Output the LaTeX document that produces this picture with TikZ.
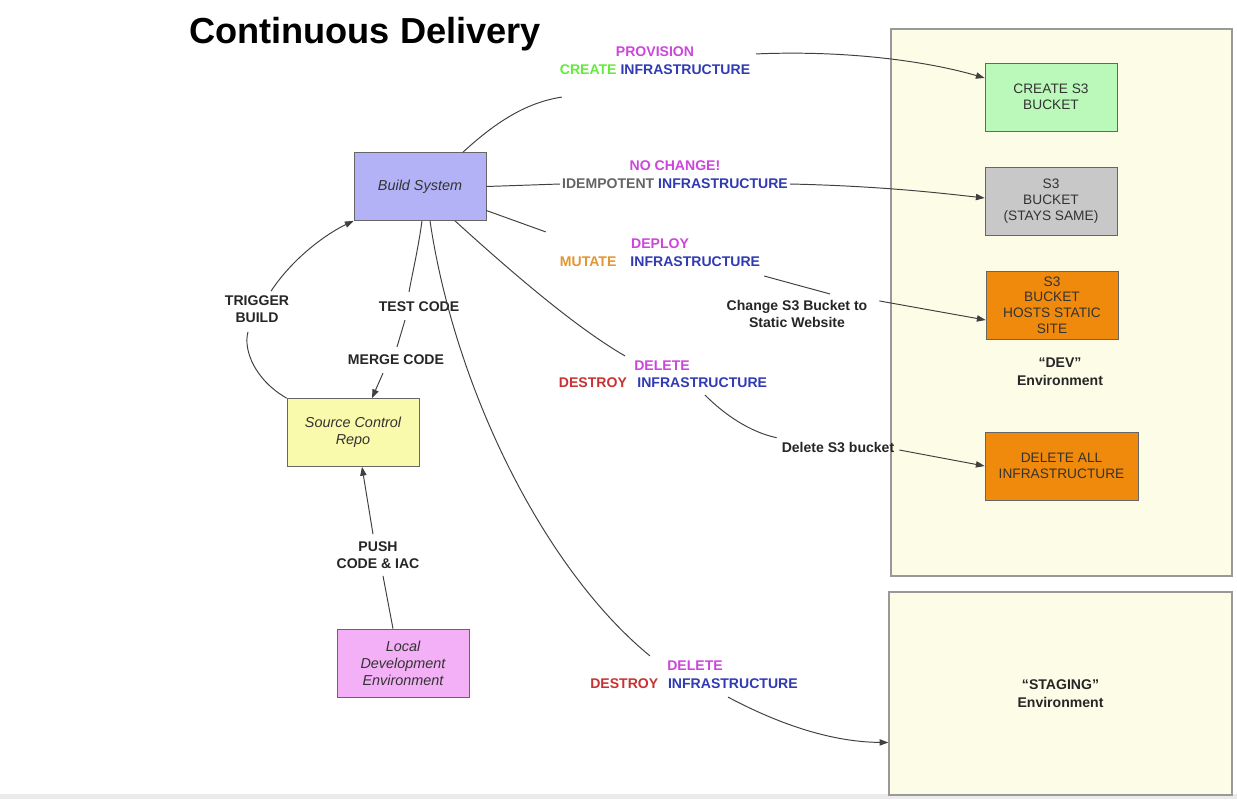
\documentclass[tikz,border=0pt]{standalone}
\usepackage{fontspec}
\setmainfont{Liberation Sans}
\usepackage{xcolor}
\usepackage{tikz}
\usetikzlibrary{arrows.meta,calc,positioning}

\definecolor{buildfill}{RGB}{180,178,246}
\definecolor{srcfill}{RGB}{250,250,172}
\definecolor{localfill}{RGB}{244,176,246}
\definecolor{createfill}{RGB}{186,249,186}
\definecolor{samefill}{RGB}{200,200,200}
\definecolor{orangefill}{RGB}{240,138,12}
\definecolor{envfill}{RGB}{253,253,231}
\definecolor{cmag}{RGB}{205,70,220}
\definecolor{cgreen}{RGB}{100,235,60}
\definecolor{cblue}{RGB}{48,58,180}
\definecolor{cgray}{RGB}{100,100,100}
\definecolor{corange}{RGB}{228,148,48}
\definecolor{cred}{RGB}{200,50,50}

\begin{document}
\begin{tikzpicture}[x=0.02cm, y=-0.02cm,
    box/.style={draw=black!60, fill=#1, align=center, text=black!80, minimum width=2.64cm, minimum height=1.36cm, inner sep=2pt, font=\fontsize{7.8}{9}\selectfont},
    itbox/.style={box=#1, font=\itshape\fontsize{8.2}{9.6}\selectfont},
    lbl/.style={font=\bfseries\fontsize{8}{10}\selectfont, align=center, inner sep=1pt, text=black!85},
    envbox/.style={draw=black!40, fill=envfill, line width=0.8pt},
    conn/.style={draw=black!75, line width=0.55pt},
    arr/.style={conn, -{Triangle[length=5pt,width=3.6pt]}}]

\useasboundingbox (0,0) rectangle (1237,799);
\fill[white] (0,0) rectangle (1237,799);
\fill[black!8] (0,794) rectangle (1237,799);

\node[font=\bfseries\fontsize{20.6}{24}\selectfont] (title) at (365,34) {Continuous Delivery};

\node[envbox, minimum width=6.82cm, minimum height=10.94cm] (dev) at (1061.5,302.5) {};
\node[lbl] (devtxt) at (1060,372) {“DEV”\\Environment};
\node[envbox, lbl, minimum width=6.86cm, minimum height=4.06cm] (staging) at (1060.5,693.5) {“STAGING”\\Environment};

\node[itbox=buildfill] (build) at (420,186.5) {Build System};
\node[itbox=srcfill] (src) at (353,432.5) {Source Control\\Repo};
\node[itbox=localfill] (local) at (403,663) {Local\\Development\\Environment};
\node[box=createfill] (create) at (1051,97) {CREATE S3\\BUCKET};
\node[box=samefill] (same) at (1051,201) {S3\\BUCKET\\(STAYS SAME)};
\node[box=orangefill] (hosts) at (1052,305) {S3\\BUCKET\\HOSTS STATIC\\SITE};
\node[box=orangefill, minimum width=3.06cm] (delall) at (1061.5,466) {DELETE ALL\\INFRASTRUCTURE};

\node[lbl, text=cmag] (prov) at (655,52) {PROVISION};
\node[lbl] (crt) at (655,70) {\textcolor{cgreen}{CREATE} \textcolor{cblue}{INFRASTRUCTURE}};
\node[lbl, text=cmag] (nochg) at (675,166) {NO CHANGE!};
\node[lbl] (idem) at (675,184) {\textcolor{cgray}{IDEMPOTENT} \textcolor{cblue}{INFRASTRUCTURE}};
\node[lbl, text=cmag] (deploy) at (660,244) {DEPLOY};
\node[lbl] (mut) at (660,262) {\textcolor{corange}{MUTATE}\hspace{1em}\textcolor{cblue}{INFRASTRUCTURE}};
\node[lbl, text=cmag] (del) at (662,366) {DELETE};
\node[lbl] (des) at (663,383) {\textcolor{cred}{DESTROY}\hspace{0.75em}\textcolor{cblue}{INFRASTRUCTURE}};
\node[lbl, text=cmag] (deltwo) at (695,666) {DELETE};
\node[lbl] (destwo) at (694,684) {\textcolor{cred}{DESTROY}\hspace{0.7em}\textcolor{cblue}{INFRASTRUCTURE}};

\node[lbl] (chg) at (797,314) {Change S3 Bucket to\\Static Website};
\node[lbl] (dels3) at (838,447) {Delete S3 bucket};
\node[lbl] (trigger) at (257,309) {TRIGGER\\BUILD};
\node[lbl] (test) at (419,307) {TEST CODE};
\node[lbl] (merge) at (396,360) {MERGE CODE};
\node[lbl] (push) at (378,555) {PUSH\\CODE \& IAC};

\draw[conn] ($(build.north)+(43,0)$) .. controls (500,118) and (530,102) .. ($(crt.south west)+(4,20)$);
\draw[arr] ($(crt.north east)+(4,-9)$) .. controls (850,50) and (930,62) .. ($(create.west)+(0,-19)$);

\draw[conn] (build.east) -- (idem.west);
\draw[arr] (idem.east) .. controls (880,186) and (940,193) .. ($(same.west)+(0,-3)$);

\draw[conn] ($(build.east)+(0,24)$) -- ($(mut.north west)+(-12,-23)$);
\draw[conn] ($(mut.east)+(2,14)$) -- ($(chg.north)+(33,-4)$);
\draw[arr] ($(chg.north east)+(10,3)$) -- ($(hosts.west)+(0,15)$);

\draw[conn] ($(build.south)+(35,0)$) .. controls (520,280) and (580,330) .. ($(des.north)+(-38,-20)$);
\draw[conn] ($(des.south)+(42,5)$) .. controls (725,415) and (750,432) .. ($(dels3.north west)+(-3,-2)$);
\draw[arr] ($(dels3.east)+(3,3)$) -- (delall.west);

\draw[conn] ($(build.south)+(10,0)$) .. controls (455,390) and (545,570) .. ($(destwo.north)+(-44,-21)$);
\draw[arr] ($(destwo.south)+(34,6)$) .. controls (790,730) and (840,742) .. ($(staging.west)+(0,49)$);

\draw[conn] ($(build.south)+(2,0)$) .. controls (418,250) and (412,275) .. ($(test.north)+(-10,-8)$);
\draw[conn] ($(test.south)+(-14,6)$) -- ($(merge.north)+(1,-6)$);
\draw[arr] ($(merge.south)+(-13,6)$) -- ($(src.north)+(19,0)$);

\draw[conn] (src.north west) .. controls (255,380) and (243,350) .. ($(trigger.south)+(-9,7)$);
\draw[arr] ($(trigger.north)+(14,-2)$) .. controls (295,255) and (330,232) .. (build.south west);

\draw[conn] ($(local.north)+(-10,0)$) -- ($(push.south)+(5,5)$);
\draw[arr] ($(push.north)+(-5,-5)$) -- ($(src.south)+(9,0)$);

\end{tikzpicture}
\end{document}
